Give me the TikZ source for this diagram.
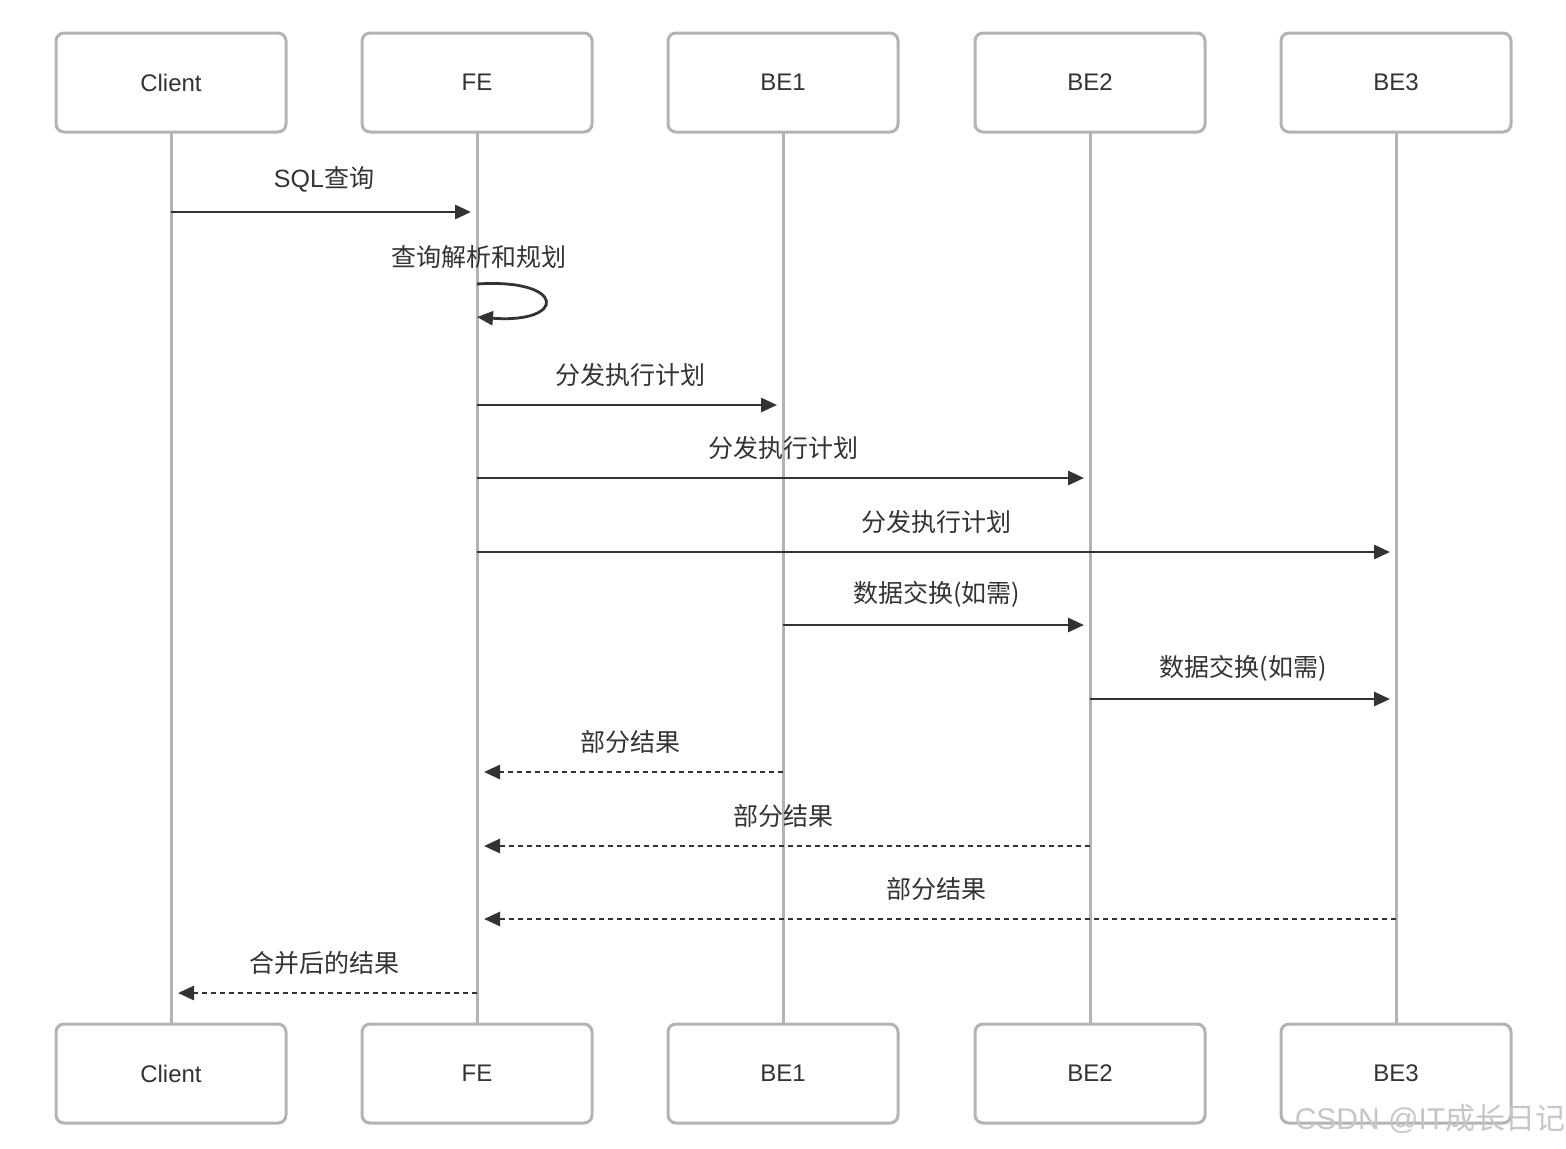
\documentclass[tikz,border=0pt]{standalone}
\usepackage{fontspec}
\setmainfont{Liberation Sans}
\newfontfamily\cjk{Noto Sans CJK SC}
\usetikzlibrary{arrows.meta,positioning}
\definecolor{lifegray}{HTML}{B3B3B3}
\definecolor{msgdark}{HTML}{333333}

\begin{document}
\begin{tikzpicture}[x=0.5pt, y=-0.5pt,
        actor/.style = {draw=lifegray, line width=1.5pt, rounded corners=4pt, fill=white,
                        minimum width=115pt, minimum height=49.5pt, text=msgdark,
                        font=\fontsize{12}{14}\selectfont},
        life/.style = {draw=lifegray, line width=1.5pt},
        msg/.style = {draw=msgdark, line width=1.4pt, -{Triangle[length=8pt,width=7pt]}},
        reply/.style = {msg, dash pattern=on 2.6pt off 1.9pt},
        lbl/.style = {text=msgdark, font=\fontsize{12.5}{14}\selectfont\cjk}]
    \useasboundingbox (0,0) rectangle (1566,1148);
    % lifelines first, boxes on top
    \foreach \name/\txt/\x in {client/Client/171, fe/FE/477, beone/BE1/783, betwo/BE2/1090, bethree/BE3/1396} {
        \draw [life] (\x,82) -- (\x,1073);
        \node [actor] (\name) at (\x,82.5) {\txt};
        \node [actor] (\name-b) at (\x,1073.5) {\txt};
    }
    % requests
    \draw [msg, shorten >=3pt] (client |- 0,212) -- (fe |- 0,212)
        node [lbl, midway, above=6pt] {{\rmfamily SQL}查询};
    \node [lbl] (parse) at (479,257) {查询解析和规划};
    \draw [msg] (fe |- 0,284) .. controls (567,278) and (567,324) .. (fe |- 0,317);
    \draw [msg, shorten >=3pt] (fe |- 0,405) -- (beone |- 0,405)
        node [lbl, midway, above=5pt] {分发执行计划};
    \draw [msg, shorten >=3pt] (fe |- 0,478) -- (betwo |- 0,478)
        node [lbl, midway, above=5pt] {分发执行计划};
    \draw [msg, shorten >=3pt] (fe |- 0,552) -- (bethree |- 0,552)
        node [lbl, midway, above=5pt] {分发执行计划};
    % exchange between backends
    \draw [msg, shorten >=3pt] (beone |- 0,625) -- (betwo |- 0,625)
        node [lbl, midway, above=5pt] {数据交换(如需)};
    \draw [msg, shorten >=3pt] (betwo |- 0,699) -- (bethree |- 0,699)
        node [lbl, midway, above=5pt] {数据交换(如需)};
    % results back
    \draw [reply, shorten >=3.5pt] (beone |- 0,772) -- (fe |- 0,772)
        node [lbl, midway, above=5pt] {部分结果};
    \draw [reply, shorten >=3.5pt] (betwo |- 0,846) -- (fe |- 0,846)
        node [lbl, midway, above=5pt] {部分结果};
    \draw [reply, shorten >=3.5pt] (bethree |- 0,919) -- (fe |- 0,919)
        node [lbl, midway, above=5pt] {部分结果};
    \draw [reply, shorten >=3.5pt] (fe |- 0,993) -- (client |- 0,993)
        node [lbl, midway, above=5pt] {合并后的结果};
    % watermark
    \node [text=gray!45, font=\fontsize{15}{17}\selectfont] (mark) at (1430,1119) {CSDN @IT{\cjk 成长日记}};
\end{tikzpicture}
\end{document}
